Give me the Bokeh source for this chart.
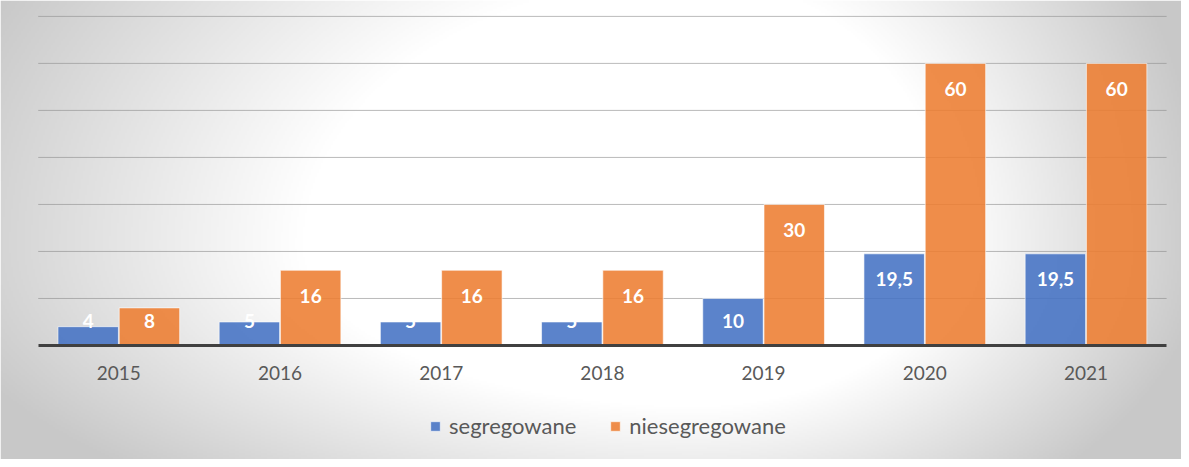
import numpy as np
from bokeh.plotting import figure
from bokeh.models import Range1d, FixedTicker, ColumnDataSource
from bokeh.core.properties import value
from bokeh.embed import file_html
from bokeh.resources import INLINE

# ---- data ----
years = ["2015", "2016", "2017", "2018", "2019", "2020", "2021"]
segregowane = [4, 5, 5, 5, 10, 19.5, 19.5]
niesegregowane = [8, 16, 16, 16, 30, 60, 60]
grid_values = [10, 20, 30, 40, 50, 60, 70]

W, H = 1181, 459
sx, sy = W / 1189, H / 467
x_start, x_end = -0.234, 7.0924
y_start, y_end = -24.25, 73.38
px_per_unit = 4.7017

p = figure(width=W, height=H, output_backend="svg", toolbar_location=None,
           x_range=Range1d(x_start, x_end), y_range=Range1d(y_start, y_end),
           min_border=0)
p.outline_line_color = None
p.border_fill_color = "#d0d0d0"
p.xgrid.visible = False
p.ygrid.visible = False
p.yaxis.visible = False

# ---- background gradient (style only) ----
step = 2
cols = (np.arange(0, W, step) + step / 2) / sx
rows = (np.arange(0, H, step) + step / 2) / sy
X, Y = np.meshgrid(cols, rows)
cx, cy = 700.0, 250.0
rx = np.where(X < cx, 720.0, 470.0)
ry = np.where(Y < cy, 500.0, 300.0)
d = np.sqrt(((X - cx) / rx) ** 2 + ((Y - cy) / ry) ** 2)
f = np.clip((d - 0.55) / 0.55, 0, 1)
g = (255 - 55 * f).astype(np.uint8)
rgba = np.zeros((len(rows), len(cols), 4), dtype=np.uint8)
rgba[..., 0] = g
rgba[..., 1] = g
rgba[..., 2] = g
rgba[..., 3] = 255
rgba = rgba[::-1]
img = rgba.view(np.uint32).reshape(rgba.shape[:2])
p.image_rgba(image=[img], x=x_start, y=y_start, dw=x_end - x_start, dh=y_end - y_start)

# ---- gridlines ----
n = len(years)
p.segment(x0=[0] * len(grid_values), x1=[n] * len(grid_values), y0=grid_values, y1=grid_values,
          line_color="#8c8c8c", line_alpha=0.6, line_width=1)

# ---- bars ----
centers = np.arange(n) + 0.5
off = 0.19
bw = 0.375


def fmt(v):
    return str(v).replace(".", ",") if v % 1 else str(int(v))


def label_y(v):
    return max(v - 25.5 / px_per_unit, 24 / px_per_unit)


src = ColumnDataSource(dict(
    xs=centers - off, xn=centers + off,
    seg=segregowane, nie=niesegregowane,
    seg_txt=[fmt(v) for v in segregowane],
    nie_txt=[fmt(v) for v in niesegregowane],
    seg_ly=[label_y(v) for v in segregowane],
    nie_ly=[label_y(v) for v in niesegregowane],
))
p.vbar(x="xs", top="seg", bottom=0, width=bw, source=src, fill_color="#4472C4", fill_alpha=0.88,
       line_color="white", line_alpha=0.6, line_width=1, legend_label="segregowane")
p.vbar(x="xn", top="nie", bottom=0, width=bw, source=src, fill_color="#ED7D31", fill_alpha=0.88,
       line_color="white", line_alpha=0.6, line_width=1, legend_label="niesegregowane")

for xcol, ycol, tcol in [("xs", "seg_ly", "seg_txt"), ("xn", "nie_ly", "nie_txt")]:
    p.text(x=xcol, y=ycol, text=tcol, source=src, text_align="center", text_baseline="middle",
           text_color="white", text_font=value("Lato"), text_font_style="bold",
           text_font_size="19px")

# ---- x axis at baseline ----
ax = p.xaxis[0]
ax.fixed_location = 0
ax.ticker = FixedTicker(ticks=list(centers))
ax.major_label_overrides = {float(c): y for c, y in zip(centers, years)}
ax.bounds = (0, n)
ax.axis_line_width = 3
ax.axis_line_color = "#404040"
ax.major_tick_line_color = None
ax.minor_tick_line_color = None
ax.major_label_standoff = 15
ax.major_label_text_font = "Lato"
ax.major_label_text_font_size = "19px"
ax.major_label_text_color = "#595959"

# ---- legend ----
lg = p.legend[0]
lg.orientation = "horizontal"
lg.location = (429, 20)
lg.background_fill_alpha = 0
lg.border_line_alpha = 0
lg.label_text_font = "Lato"
lg.label_text_font_size = "22px"
lg.label_text_color = "#595959"
lg.glyph_width = 12
lg.glyph_height = 12
lg.label_standoff = 8
lg.spacing = 33
lg.padding = 0
lg.margin = 0
lg.label_height = 22

open("out.html", "w").write(file_html(p, INLINE))
